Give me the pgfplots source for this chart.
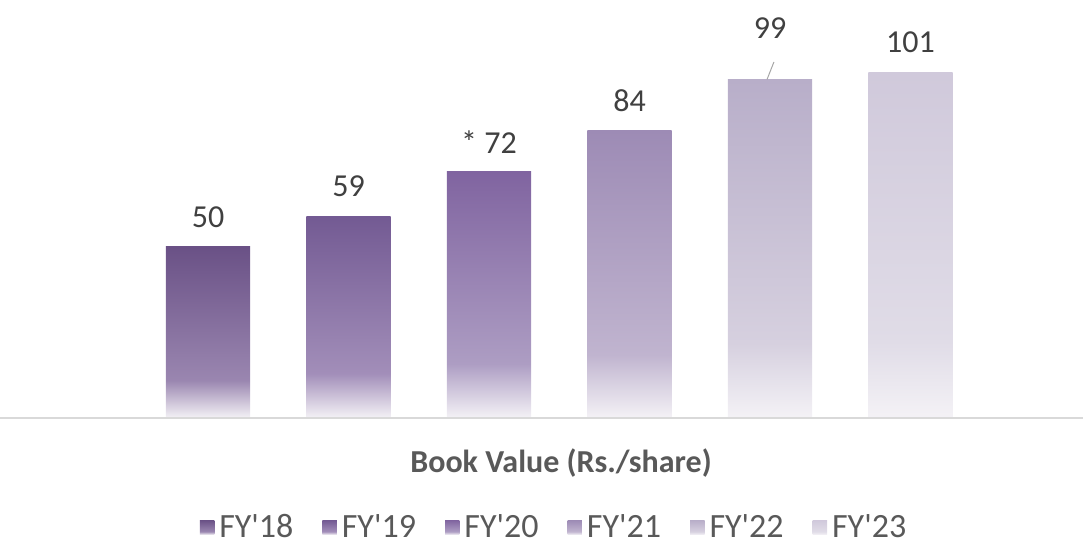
\documentclass[border=0pt]{standalone}
\usepackage{pgfplots}
\pgfplotsset{compat=1.18}
\usepackage{fontspec}
\setmainfont{Carlito}[Ligatures=TeXOff]

\definecolor{lbl}{HTML}{404040}
\definecolor{txt}{HTML}{595959}
\definecolor{bot}{HTML}{F4F2F6}
\definecolor{tA}{HTML}{6A5186}\definecolor{mA}{HTML}{9A86B0}
\definecolor{tB}{HTML}{735A93}\definecolor{mB}{HTML}{A28EB9}
\definecolor{tC}{HTML}{8064A0}\definecolor{mC}{HTML}{AD9DC3}
\definecolor{tD}{HTML}{9D8BB5}\definecolor{mD}{HTML}{C0B4CF}
\definecolor{tE}{HTML}{B8AEC9}\definecolor{mE}{HTML}{D6D0DF}
\definecolor{tF}{HTML}{D0C9DB}\definecolor{mF}{HTML}{E0DCE7}

% bar spans 25bp..75bp of each shading
\pgfdeclareverticalshading{sA}{100bp}{color(0bp)=(bot); color(25bp)=(bot); color(36bp)=(mA); color(75bp)=(tA); color(100bp)=(tA)}
\pgfdeclareverticalshading{sB}{100bp}{color(0bp)=(bot); color(25bp)=(bot); color(36bp)=(mB); color(75bp)=(tB); color(100bp)=(tB)}
\pgfdeclareverticalshading{sC}{100bp}{color(0bp)=(bot); color(25bp)=(bot); color(36bp)=(mC); color(75bp)=(tC); color(100bp)=(tC)}
\pgfdeclareverticalshading{sD}{100bp}{color(0bp)=(bot); color(25bp)=(bot); color(36bp)=(mD); color(75bp)=(tD); color(100bp)=(tD)}
\pgfdeclareverticalshading{sE}{100bp}{color(0bp)=(bot); color(25bp)=(bot); color(36bp)=(mE); color(75bp)=(tE); color(100bp)=(tE)}
\pgfdeclareverticalshading{sF}{100bp}{color(0bp)=(bot); color(25bp)=(bot); color(36bp)=(mF); color(75bp)=(tF); color(100bp)=(tF)}

\begin{document}
\begin{tikzpicture}
\path[use as bounding box] (0,-63.5pt) rectangle (541.5pt,209pt);
\begin{axis}[
    at={(0,0)}, anchor=south west,
    scale only axis, width=541.5pt, height=209pt,
    xmin=-1.4804, xmax=6.2278, ymin=0, ymax=122.22,
    hide axis, clip=false,
    bar width=0.598,
    /pgf/number format/assume math mode=true,
    every axis plot/.append style={ybar, draw=none, shading angle=0},
    nodes near coords,
    every node near coord/.style={anchor=center, yshift=15pt, text=lbl,
        font=\fontsize{16}{19}\selectfont},
    legend columns=6,
    legend style={at={(0.513,-0.262)}, anchor=center, draw=none, fill=none,
        text=txt, font=\fontsize{17}{20}\selectfont,
        /tikz/every even column/.append style={column sep=12pt},
        /tikz/every odd column/.append style={column sep=0pt},
        nodes={inner xsep=2.5pt, inner ysep=1pt}},
    legend image code/.code={\path[#1] (0pt,-3.6pt) rectangle (7.2pt,3.6pt);},
]
\addplot[shading=sA] coordinates {(0,50)};
\addlegendentry{FY'18}
\addplot[shading=sB] coordinates {(1,59)};
\addlegendentry{FY'19}
\addplot[shading=sC, nodes near coords={*~\pgfmathprintnumber\pgfplotspointmeta}] coordinates {(2,72)};
\addlegendentry{FY'20}
\addplot[shading=sD] coordinates {(3,84)};
\addlegendentry{FY'21}
\addplot[shading=sE, every node near coord/.append style={yshift=10.5pt}] coordinates {(4,99)};
\addlegendentry{FY'22}
\addplot[shading=sF] coordinates {(5,101)};
\addlegendentry{FY'23}

\draw[gray!70, line width=0.5pt] (axis cs:3.979,99) -- (axis cs:4.028,104.1);
\draw[gray!30, line width=1pt] (rel axis cs:0,0) -- (rel axis cs:1,0);
\node[text=txt, font=\bfseries\fontsize{16}{19}\selectfont]
    at ([yshift=-22.5pt]rel axis cs:0.518,0) {Book Value (Rs./share)};
\end{axis}
\end{tikzpicture}
\end{document}
